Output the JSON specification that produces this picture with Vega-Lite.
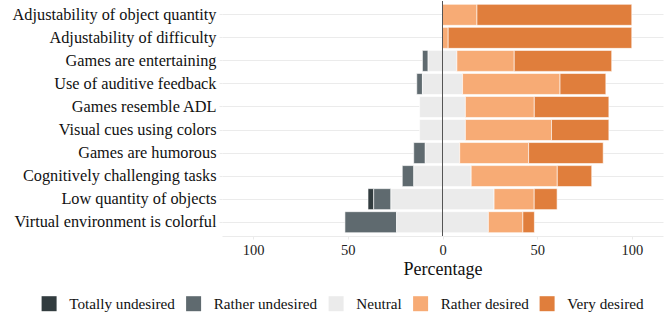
{
  "$schema": "https://vega.github.io/schema/vega-lite/v6.json",
  "autosize": {"type": "none"},
  "padding": {"left": 222, "top": 1, "right": 2, "bottom": 82},
  "width": 441,
  "height": 235,
  "background": "white",
  "config": {
    "font": "Liberation Serif",
    "view": {"stroke": null}
  },
  "data": {
    "values": [
      {"question": "Adjustability of object quantity", "type": "Rather desired", "pct": 18.2},
      {"question": "Adjustability of object quantity", "type": "Very desired", "pct": 81.8},
      {"question": "Adjustability of difficulty", "type": "Rather desired", "pct": 3.0},
      {"question": "Adjustability of difficulty", "type": "Very desired", "pct": 97.0},
      {"question": "Games are entertaining", "type": "Rather undesired", "pct": 3.0},
      {"question": "Games are entertaining", "type": "Neutral", "pct": 15.2},
      {"question": "Games are entertaining", "type": "Rather desired", "pct": 30.3},
      {"question": "Games are entertaining", "type": "Very desired", "pct": 51.5},
      {"question": "Use of auditive feedback", "type": "Rather undesired", "pct": 3.0},
      {"question": "Use of auditive feedback", "type": "Neutral", "pct": 21.2},
      {"question": "Use of auditive feedback", "type": "Rather desired", "pct": 51.5},
      {"question": "Use of auditive feedback", "type": "Very desired", "pct": 24.2},
      {"question": "Games resemble ADL", "type": "Neutral", "pct": 24.2},
      {"question": "Games resemble ADL", "type": "Rather desired", "pct": 36.4},
      {"question": "Games resemble ADL", "type": "Very desired", "pct": 39.4},
      {"question": "Visual cues using colors", "type": "Neutral", "pct": 24.2},
      {"question": "Visual cues using colors", "type": "Rather desired", "pct": 45.5},
      {"question": "Visual cues using colors", "type": "Very desired", "pct": 30.3},
      {"question": "Games are humorous", "type": "Rather undesired", "pct": 6.1},
      {"question": "Games are humorous", "type": "Neutral", "pct": 18.2},
      {"question": "Games are humorous", "type": "Rather desired", "pct": 36.4},
      {"question": "Games are humorous", "type": "Very desired", "pct": 39.4},
      {"question": "Cognitively challenging tasks", "type": "Rather undesired", "pct": 6.1},
      {"question": "Cognitively challenging tasks", "type": "Neutral", "pct": 30.3},
      {"question": "Cognitively challenging tasks", "type": "Rather desired", "pct": 45.5},
      {"question": "Cognitively challenging tasks", "type": "Very desired", "pct": 18.2},
      {"question": "Low quantity of objects", "type": "Totally undesired", "pct": 3.0},
      {"question": "Low quantity of objects", "type": "Rather undesired", "pct": 9.1},
      {"question": "Low quantity of objects", "type": "Neutral", "pct": 54.5},
      {"question": "Low quantity of objects", "type": "Rather desired", "pct": 21.2},
      {"question": "Low quantity of objects", "type": "Very desired", "pct": 12.1},
      {"question": "Virtual environment is colorful", "type": "Rather undesired", "pct": 27.3},
      {"question": "Virtual environment is colorful", "type": "Neutral", "pct": 48.5},
      {"question": "Virtual environment is colorful", "type": "Rather desired", "pct": 18.2},
      {"question": "Virtual environment is colorful", "type": "Very desired", "pct": 6.1}
    ]
  },
  "layer": [
    {
      "transform": [
        {"calculate": "indexof(['Totally undesired','Rather undesired','Neutral','Rather desired','Very desired'], datum.type)", "as": "ord"},
        {"calculate": "datum.ord < 2 ? datum.pct : (datum.ord == 2 ? datum.pct / 2 : 0)", "as": "neg"},
        {"joinaggregate": [{"op": "sum", "field": "neg", "as": "offset"}], "groupby": ["question"]},
        {"stack": "pct", "groupby": ["question"], "sort": [{"field": "ord", "order": "ascending"}], "as": ["v1", "v2"]},
        {"calculate": "datum.v1 - datum.offset", "as": "x1"},
        {"calculate": "datum.v2 - datum.offset", "as": "x2"}
      ],
      "mark": {"type": "bar", "stroke": "white", "strokeWidth": 0.6, "size": 21},
      "encoding": {
        "y": {
          "field": "question",
          "type": "nominal",
          "sort": ["Adjustability of object quantity", "Adjustability of difficulty", "Games are entertaining", "Use of auditive feedback", "Games resemble ADL", "Visual cues using colors", "Games are humorous", "Cognitively challenging tasks", "Low quantity of objects", "Virtual environment is colorful"],
          "scale": {"paddingOuter": 0.1, "paddingInner": 0},
          "axis": {
            "title": null,
            "domain": false,
            "grid": true,
            "gridColor": "#ebebeb",
            "gridWidth": 1.2,
            "ticks": true,
            "tickColor": "#ebebeb",
            "tickSize": 3,
            "labelFont": "Liberation Serif",
            "labelFontSize": 16.3,
            "labelColor": "#111",
            "labelPadding": 3,
            "labelLimit": 300
          }
        },
        "x": {
          "field": "x1",
          "type": "quantitative",
          "scale": {"domain": [-116.5, 116.5], "nice": false, "zero": false},
          "axis": {
            "values": [-100, -50, 0, 50, 100],
            "labelExpr": "abs(datum.value)",
            "title": "Percentage",
            "titleFont": "Liberation Serif",
            "titleFontSize": 18,
            "titleFontWeight": "normal",
            "titleColor": "#111",
            "titlePadding": 4,
            "labelFont": "Liberation Serif",
            "labelFontSize": 14.5,
            "labelColor": "#222",
            "labelPadding": 4,
            "grid": false,
            "domain": true,
            "domainColor": "#ebebeb",
            "domainWidth": 1.2,
            "ticks": true,
            "tickColor": "#ebebeb",
            "tickSize": 3
          }
        },
        "x2": {"field": "x2"},
        "color": {
          "field": "type",
          "type": "nominal",
          "scale": {
            "domain": ["Totally undesired", "Rather undesired", "Neutral", "Rather desired", "Very desired"],
            "range": ["#323c3f", "#5f6a6f", "#ebebeb", "#f7ab75", "#e07e3c"]
          },
          "legend": {
            "title": null,
            "orient": "none",
            "direction": "horizontal",
            "legendX": -180.5,
            "legendY": 295,
            "symbolType": "square",
            "symbolSize": 225,
            "symbolStrokeWidth": 0,
            "labelFont": "Liberation Serif",
            "labelFontSize": 15.2,
            "labelColor": "#111",
            "labelOffset": 12.5,
            "columnPadding": 10.5
          }
        }
      }
    },
    {
      "data": {"values": [{"zero": 0}]},
      "mark": {"type": "rule", "color": "#555", "strokeWidth": 1},
      "encoding": {"x": {"field": "zero", "type": "quantitative"}}
    }
  ]
}
